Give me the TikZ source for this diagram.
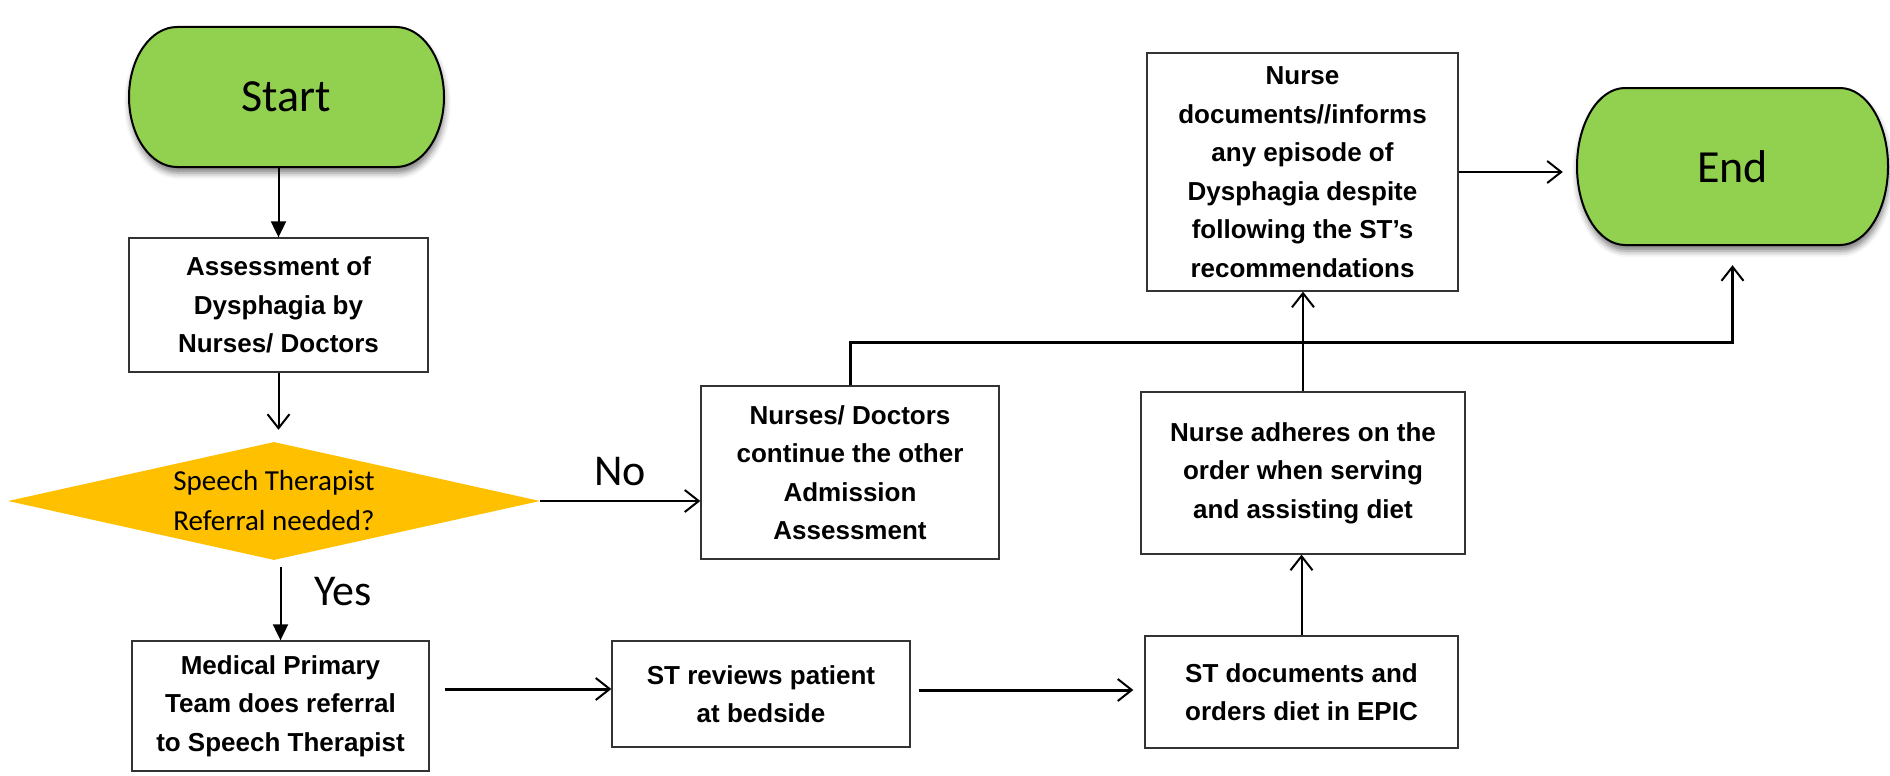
\documentclass[tikz,border=0pt]{standalone}
\usepackage{fontspec}
\setmainfont{Liberation Sans}
\newfontfamily\calfont{Carlito}
\usetikzlibrary{arrows.meta,shadows.blur,shapes.geometric,calc}
\definecolor{termgreen}{HTML}{92D050}
\definecolor{decgold}{HTML}{FFC000}
\tikzset{
 box/.style={draw=black!80, line width=1.3pt, fill=white, align=center, inner sep=0pt, font=\fontsize{26}{38.5}\selectfont\bfseries},
 termshape/.style={draw=black, line width=2pt, fill=termgreen, blur shadow={shadow xshift=1pt, shadow yshift=-6pt, shadow blur radius=6pt, shadow opacity=50}},
 termtext/.style={inner sep=0pt, font=\calfont\fontsize{46}{50}\selectfont},
 flow/.style={draw=black, line width=2pt, -{Straight Barb[length=14pt,width=22pt,line width=2pt]}},
 thick flow/.style={flow, line width=3pt},
 flowfill/.style={draw=black, line width=2pt, -{Triangle[length=16pt,width=15pt]}},
 lbl/.style={inner sep=0pt, font=\calfont\fontsize{44}{48}\selectfont},
}
\begin{document}
\begin{tikzpicture}[x=1pt,y=1pt]
\useasboundingbox (0,0) rectangle (1890,-776);
% terminators
\path[termshape] (177,-27) -- (396,-27) arc[start angle=90, end angle=-90, x radius=48pt, y radius=70pt] -- (177,-167) arc[start angle=270, end angle=90, x radius=48pt, y radius=70pt] -- cycle;
\node[termtext, minimum width=315pt, minimum height=140pt] (start) at (286.5,-97) {Start};
\path[termshape] (1625,-88) -- (1840,-88) arc[start angle=90, end angle=-90, x radius=48pt, y radius=78.5pt] -- (1625,-245) arc[start angle=270, end angle=90, x radius=48pt, y radius=78.5pt] -- cycle;
\node[termtext, minimum width=311pt, minimum height=157pt] (end) at (1732.5,-166.5) {End};
% boxes
\node[box, minimum width=299pt, minimum height=134pt] (assess) at (278.5,-305) {Assessment of\\Dysphagia by\\Nurses/ Doctors};
\node[diamond, fill=decgold, draw=none, minimum width=532pt, minimum height=118pt, aspect=4.5, inner sep=0pt, align=center, font=\calfont\fontsize{29}{40}\selectfont] (dec) at (274,-501) {Speech Therapist\\Referral needed?};
\node[box, minimum width=297pt, minimum height=130pt] (med) at (280.5,-706) {Medical Primary\\Team does referral\\to Speech Therapist};
\node[box, minimum width=298pt, minimum height=173pt] (nd) at (850,-472.5) {Nurses/ Doctors\\continue the other\\Admission\\Assessment};
\node[box, minimum width=298pt, minimum height=106pt] (stre) at (761,-694) {ST reviews patient\\at bedside};
\node[box, minimum width=313pt, minimum height=112pt] (stdoc) at (1301.5,-692) {ST documents and\\orders diet in EPIC};
\node[box, minimum width=324pt, minimum height=162pt] (nadh) at (1303,-473) {Nurse adheres on the\\order when serving\\and assisting diet};
\node[box, minimum width=311pt, minimum height=238pt] (ndoc) at (1302.5,-172) {Nurse\\documents//informs\\any episode of\\Dysphagia despite\\following the ST’s\\recommendations};
% labels
\node[lbl] (nolbl) at (620,-472) {No};
\node[lbl] (yeslbl) at (343,-592) {Yes};
% connectors
\draw[flowfill] (start.south -| assess.north) -- (assess.north);
\draw[flow, shorten >=12pt] (assess.south) -- (assess.south |- dec.north);
\draw[flow] (dec.east) -- (dec.east -| nd.west);
\draw[flowfill] ([yshift=-7pt]med.north |- dec.south) -- (med.north);
\draw[thick flow] ([xshift=15pt,yshift=5pt]med.east |- stre.west) -- ([yshift=5pt]stre.west);
\draw[thick flow, shorten >=11pt] ([xshift=8pt,yshift=4pt]stre.east) -- ([yshift=4pt]stre.east -| stdoc.west);
\draw[flow] (stdoc.north) -- (stdoc.north |- nadh.south);
\draw[flow] (nadh.north) -- (nadh.north |- ndoc.south);
\coordinate (junc) at ($(nd.north)+(0,43)$);
\draw[thick flow, shorten >=20pt] (nd.north) -- (junc) -| (end.south);
\draw[flow, shorten >=14pt] (ndoc.east) -- (ndoc.east -| end.west);
\end{tikzpicture}
\end{document}
